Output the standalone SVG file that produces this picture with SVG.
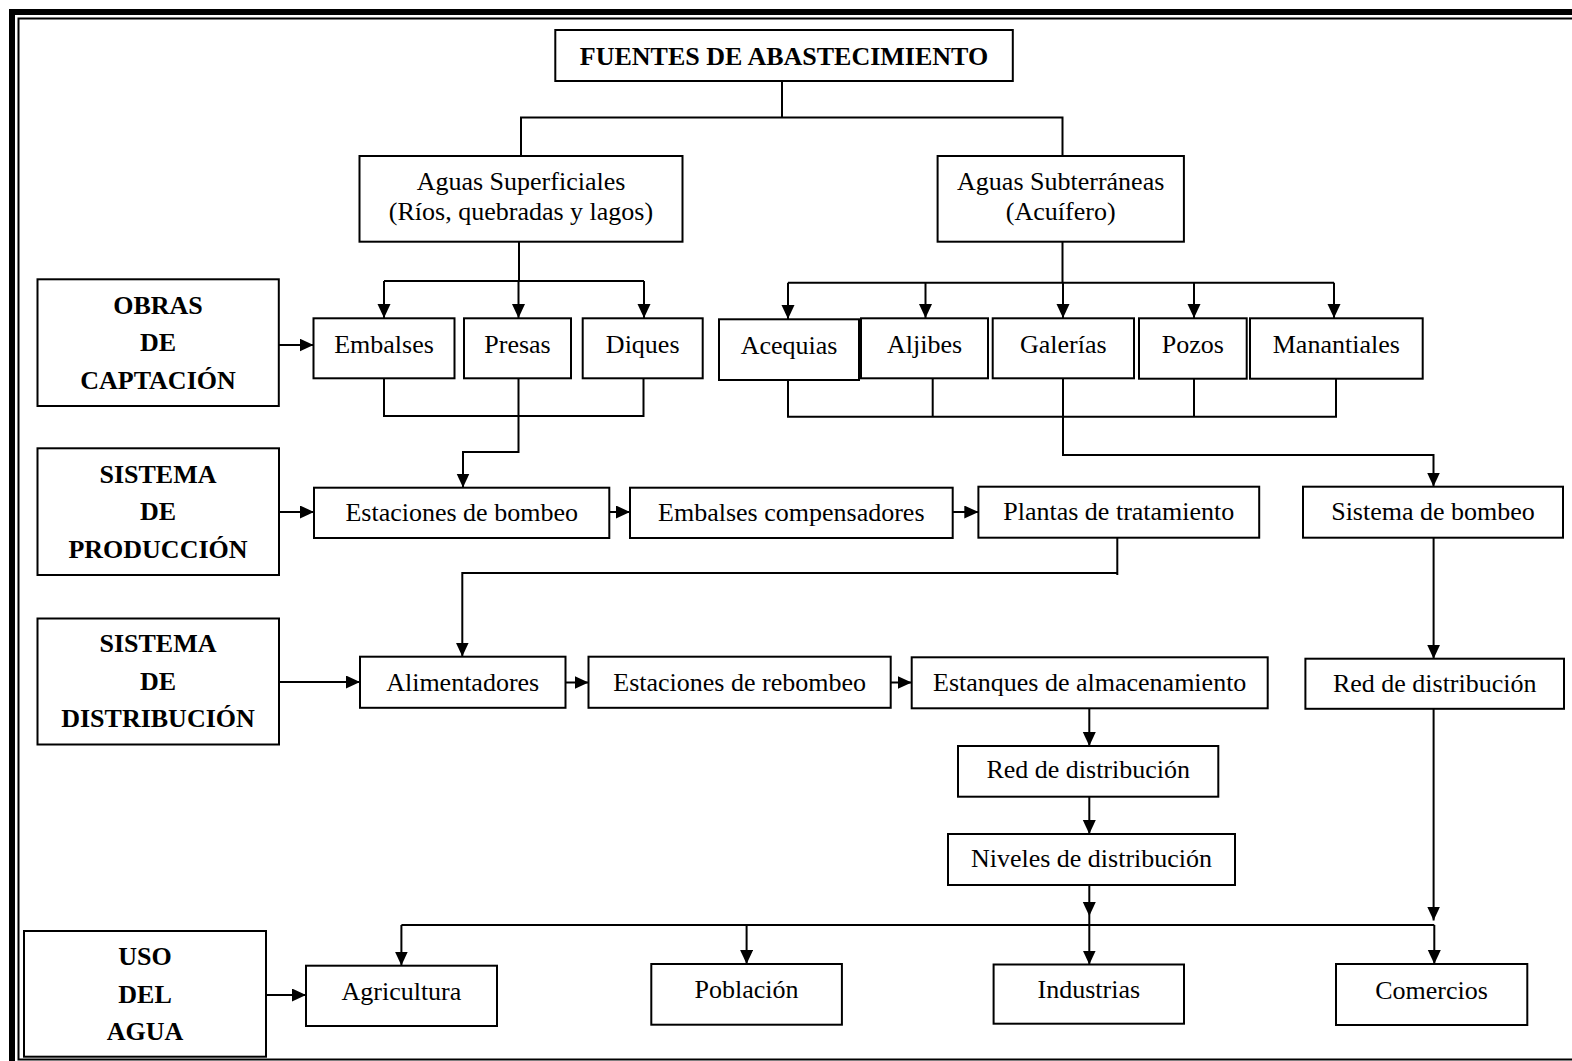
<svg xmlns="http://www.w3.org/2000/svg" width="1572" height="1061" viewBox="0 0 1572 1061">
<style>
  .box{fill:#fff;stroke:#000;stroke-width:2}
  .t{font-family:"Liberation Serif","Times New Roman",serif;font-size:26px;fill:#000;text-anchor:middle}
  .b{font-weight:bold}
  .ln{fill:none;stroke:#000;stroke-width:2}
  .ar{fill:none;stroke:#000;stroke-width:2;marker-end:url(#ah)}
</style>
<defs>
  <marker id="ah" markerUnits="userSpaceOnUse" markerWidth="14" markerHeight="14" refX="14" refY="6.5" orient="auto">
    <path d="M0,0 L14,6.5 L0,13 z" fill="#000"/>
  </marker>
</defs>
<rect x="0" y="0" width="1572" height="1061" fill="#fff"/>
<g id="frame">
  <rect x="12" y="12" width="1580" height="1060" fill="none" stroke="#000" stroke-width="6"/>
  <rect x="18.5" y="18.5" width="1570" height="1041" fill="none" stroke="#000" stroke-width="2"/>
</g>

<g id="connectors">
  <!-- top tree -->
  <path class="ln" d="M782,81 V117.5 M521,156 V117.5 H1062.5 V156"/>
  <!-- superficiales -->
  <path class="ln" d="M519,241.7 V281 M384,281 H644"/>
  <path class="ar" d="M384,281 V318"/>
  <path class="ar" d="M518.5,281 V318"/>
  <path class="ar" d="M644,281 V318"/>
  <!-- subterraneas -->
  <path class="ln" d="M1062.5,241.7 V282.7 M788,282.7 H1334"/>
  <path class="ar" d="M788,282.7 V319"/>
  <path class="ar" d="M925.5,282.7 V318"/>
  <path class="ar" d="M1063,282.7 V318"/>
  <path class="ar" d="M1194,282.7 V318"/>
  <path class="ar" d="M1334,282.7 V318"/>
  <!-- collectors -->
  <path class="ln" d="M384,378 V416 H643.5 V378 M518.5,378 V452 H463"/>
  <path class="ar" d="M463,451 V487.5"/>
  <path class="ln" d="M788,380 V416.7 H1336 V378.5 M932.7,378 V416.7 M1194,378.5 V416.7 M1063,378 V455 H1433.5"/>
  <path class="ar" d="M1433.5,454 V486.5"/>
  <!-- side arrows -->
  <path class="ar" d="M279,345 H313.5"/>
  <path class="ar" d="M279,512 H314"/>
  <path class="ar" d="M609.3,512 H630"/>
  <path class="ar" d="M952.7,512 H978.3"/>
  <!-- plantas to alimentadores -->
  <path class="ln" d="M1117.3,538 V575 M1117.3,573 H462.3"/>
  <path class="ar" d="M462.3,572 V656.5"/>
  <!-- distribution -->
  <path class="ar" d="M279,682 H360"/>
  <path class="ar" d="M565.5,682.5 H588.5"/>
  <path class="ar" d="M890.7,682.5 H911.7"/>
  <path class="ar" d="M1089.3,708.3 V746"/>
  <path class="ar" d="M1089.3,796.7 V834"/>
  <path class="ar" d="M1089.3,885 V916"/>
  <path class="ar" d="M1433.6,537.7 V658.7"/>
  <path class="ar" d="M1433.6,708.8 V920.5"/>
  <!-- uso -->
  <path class="ln" d="M401.4,925 H1434.3"/>
  <path class="ar" d="M401.4,925 V965.5"/>
  <path class="ar" d="M746.6,925 V964"/>
  <path class="ar" d="M1089.3,916 V964.5"/>
  <path class="ar" d="M1434.3,925 V964"/>
  <path class="ar" d="M266,995 H306"/>
</g>

<g id="fuentes"><rect class="box" x="555.3" y="30" width="457.5" height="51"/><text class="t b" x="784" y="65">FUENTES DE ABASTECIMIENTO</text></g>
<g id="superficiales"><rect class="box" x="359.5" y="156" width="323" height="85.7"/><text class="t" x="521" y="190">Aguas Superficiales</text><text class="t" x="521" y="220">(Ríos, quebradas y lagos)</text></g>
<g id="subterraneas"><rect class="box" x="937.6" y="156" width="246.3" height="85.7"/><text class="t" x="1060.7" y="190">Aguas Subterráneas</text><text class="t" x="1060.7" y="220">(Acuífero)</text></g>

<g id="obras"><rect class="box" x="37.5" y="279.3" width="241.3" height="126.7"/><text class="t b" x="158" y="313.5">OBRAS</text><text class="t b" x="158" y="351">DE</text><text class="t b" x="158" y="388.5">CAPTACIÓN</text></g>
<g id="embalses"><rect class="box" x="313.5" y="318.3" width="141" height="60"/><text class="t" x="384" y="353">Embalses</text></g>
<g id="presas"><rect class="box" x="464" y="318.3" width="107" height="60"/><text class="t" x="517.5" y="353">Presas</text></g>
<g id="diques"><rect class="box" x="582.7" y="318.3" width="120" height="60"/><text class="t" x="642.7" y="353">Diques</text></g>
<g id="acequias"><rect class="box" x="719" y="319.3" width="140" height="60.7"/><text class="t" x="789" y="354">Acequias</text></g>
<g id="aljibes"><rect class="box" x="861" y="318.3" width="127" height="60"/><text class="t" x="924.5" y="352.5">Aljibes</text></g>
<g id="galerias"><rect class="box" x="992.7" y="318.3" width="141.3" height="60"/><text class="t" x="1063.3" y="352.5">Galerías</text></g>
<g id="pozos"><rect class="box" x="1139" y="318.3" width="107.7" height="60.4"/><text class="t" x="1192.8" y="352.5">Pozos</text></g>
<g id="manantiales"><rect class="box" x="1250" y="318.3" width="172.7" height="60.4"/><text class="t" x="1336.3" y="352.5">Manantiales</text></g>

<g id="produccion"><rect class="box" x="37.5" y="448.3" width="241.5" height="126.7"/><text class="t b" x="158" y="482.5">SISTEMA</text><text class="t b" x="158" y="520">DE</text><text class="t b" x="158" y="557.5">PRODUCCIÓN</text></g>
<g id="estaciones-bombeo"><rect class="box" x="314" y="487.7" width="295.3" height="50.3"/><text class="t" x="461.7" y="521">Estaciones de bombeo</text></g>
<g id="embalses-comp"><rect class="box" x="630" y="487.7" width="322.7" height="50.3"/><text class="t" x="791.3" y="521">Embalses compensadores</text></g>
<g id="plantas"><rect class="box" x="978.4" y="486.7" width="280.8" height="51"/><text class="t" x="1118.8" y="520">Plantas de tratamiento</text></g>
<g id="sistema-bombeo"><rect class="box" x="1303" y="486.7" width="260" height="51"/><text class="t" x="1433" y="519.5">Sistema de bombeo</text></g>

<g id="distribucion"><rect class="box" x="37.5" y="618.5" width="241.5" height="126"/><text class="t b" x="158" y="651.5">SISTEMA</text><text class="t b" x="158" y="689.5">DE</text><text class="t b" x="158" y="727">DISTRIBUCIÓN</text></g>
<g id="alimentadores"><rect class="box" x="360" y="656.7" width="205.5" height="51.1"/><text class="t" x="462.7" y="690.5">Alimentadores</text></g>
<g id="rebombeo"><rect class="box" x="588.5" y="656.7" width="302.2" height="51.1"/><text class="t" x="739.6" y="690.5">Estaciones de rebombeo</text></g>
<g id="estanques"><rect class="box" x="911.7" y="657.3" width="356" height="51"/><text class="t" x="1089.7" y="690.7">Estanques de almacenamiento</text></g>
<g id="red-derecha"><rect class="box" x="1305.4" y="658.7" width="258.6" height="50.1"/><text class="t" x="1434.7" y="691.5">Red de distribución</text></g>
<g id="red-centro"><rect class="box" x="958" y="746" width="260.3" height="50.7"/><text class="t" x="1088.2" y="778.3">Red de distribución</text></g>
<g id="niveles"><rect class="box" x="948" y="834" width="287" height="51"/><text class="t" x="1091.5" y="866.7">Niveles de distribución</text></g>

<g id="uso"><rect class="box" x="24" y="931" width="242" height="125.7"/><text class="t b" x="145" y="965">USO</text><text class="t b" x="145" y="1002.7">DEL</text><text class="t b" x="145" y="1040">AGUA</text></g>
<g id="agricultura"><rect class="box" x="306" y="965.7" width="191" height="60.3"/><text class="t" x="401.4" y="1000">Agricultura</text></g>
<g id="poblacion"><rect class="box" x="651.3" y="964" width="190.6" height="60.7"/><text class="t" x="746.6" y="998">Población</text></g>
<g id="industrias"><rect class="box" x="993.6" y="964.5" width="190.4" height="59.2"/><text class="t" x="1088.8" y="998">Industrias</text></g>
<g id="comercios"><rect class="box" x="1336" y="964" width="191.3" height="61"/><text class="t" x="1431.6" y="999">Comercios</text></g>
</svg>
